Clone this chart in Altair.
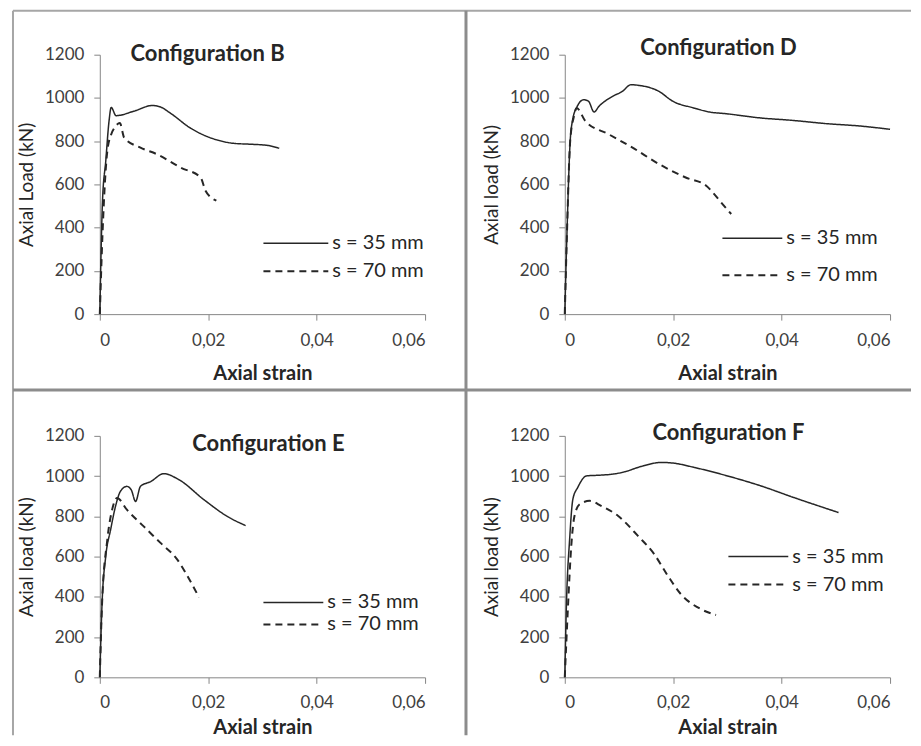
import altair as alt
import pandas as pd

FONT = "Lato"
SERIES = ["s = 35 mm", "s = 70 mm"]

# ---- Configuration B ----
b35_strain = [0, 0.0005, 0.0011, 0.0017, 0.0021, 0.0030, 0.0062, 0.0097, 0.0112, 0.0130, 0.0167, 0.0190, 0.0216, 0.0247, 0.0277, 0.0308, 0.0331]
b35_load = [0, 525, 708, 892, 956, 918, 938, 965, 958, 930, 861, 830, 806, 790, 786, 781, 767]
b70_strain = [0, 0.0005, 0.0014, 0.0021, 0.0028, 0.0037, 0.0045, 0.0075, 0.0106, 0.0149, 0.0186, 0.0195, 0.0215]
b70_load = [0, 371, 757, 831, 865, 884, 816, 770, 739, 678, 632, 571, 525]

# ---- Configuration D ----
d35_strain = [0, 0.0004, 0.0010, 0.0014, 0.0023, 0.0035, 0.0044, 0.0054, 0.0063, 0.0088, 0.0106, 0.0122, 0.0137, 0.0174, 0.0199, 0.0236, 0.0267, 0.0298, 0.0359, 0.0421, 0.0483, 0.0545, 0.0600]
d35_load = [0, 371, 801, 892, 961, 992, 984, 935, 961, 1007, 1030, 1061, 1058, 1030, 985, 955, 935, 927, 908, 896, 881, 870, 855]
d70_strain = [0, 0.0004, 0.0010, 0.0017, 0.0022, 0.0038, 0.0081, 0.0125, 0.0174, 0.0223, 0.0261, 0.0273, 0.0291, 0.0307]
d70_load = [0, 371, 801, 916, 953, 893, 832, 770, 694, 632, 594, 563, 509, 463]

# ---- Configuration E ----
e35_strain = [0, 0.0004, 0.0011, 0.0020, 0.0029, 0.0038, 0.0050, 0.0058, 0.0066, 0.0075, 0.0094, 0.0118, 0.0146, 0.0192, 0.0235, 0.0269]
e35_load = [0, 356, 602, 734, 850, 924, 949, 932, 874, 949, 973, 1012, 982, 883, 800, 754]
e70_strain = [0, 0.0004, 0.0014, 0.0023, 0.0032, 0.0050, 0.0081, 0.0112, 0.0143, 0.0158, 0.0183]
e70_load = [0, 356, 687, 836, 891, 833, 750, 668, 585, 521, 397]

# ---- Configuration F ----
f35_strain = [0, 0.0003, 0.0009, 0.0015, 0.0024, 0.0040, 0.0067, 0.0089, 0.0110, 0.0141, 0.0178, 0.0202, 0.0239, 0.0300, 0.0361, 0.0422, 0.0505]
f35_load = [0, 356, 687, 886, 944, 1001, 1005, 1010, 1021, 1048, 1068, 1064, 1043, 1001, 952, 894, 819]
f70_strain = [0, 0.0006, 0.0012, 0.0018, 0.0028, 0.0046, 0.0067, 0.0098, 0.0135, 0.0165, 0.0190, 0.0214, 0.0251, 0.0279]
f70_load = [0, 356, 654, 803, 861, 877, 852, 803, 703, 612, 505, 414, 339, 310]

x_ticks = [0, 0.02, 0.04, 0.06]
y_ticks = [0, 200, 400, 600, 800, 1000, 1200]

rows = []
for panel, s35, l35, s70, l70 in [
    ("B", b35_strain, b35_load, b70_strain, b70_load),
    ("D", d35_strain, d35_load, d70_strain, d70_load),
    ("E", e35_strain, e35_load, e70_strain, e70_load),
    ("F", f35_strain, f35_load, f70_strain, f70_load),
]:
    for s, l in zip(s35, l35):
        rows.append({"panel": panel, "series": SERIES[0], "strain": s, "load": l})
    for s, l in zip(s70, l70):
        rows.append({"panel": panel, "series": SERIES[1], "strain": s, "load": l})
df = pd.DataFrame(rows)

W = 326
H_TOP = 260
H_BOT = 242
one = alt.Data(values=[{}])


def panel_chart(key, title, ytitle, height, tx, ty, lx, ly, rowpad, half, loff, xlp, xtp, extra=None):
    data = df[df.panel == key]
    lines = alt.Chart(data).mark_line(interpolate="monotone", color="#262626").encode(
        x=alt.X("strain:Q", scale=alt.Scale(domain=[0, 0.06], nice=False),
                axis=alt.Axis(values=x_ticks, title="Axial strain", titleFontWeight="bold", titleFontSize=20,
                              labelExpr="datum.value == 0 ? '0' : replace(format(datum.value, '.2f'), '.', ',')",
                              labelPadding=xlp, titlePadding=xtp)),
        y=alt.Y("load:Q", scale=alt.Scale(domain=[0, 1200], nice=False),
                axis=alt.Axis(values=y_ticks, format="d", title=ytitle, titleFontWeight="normal",
                              labelPadding=10, titlePadding=8)),
        strokeDash=alt.StrokeDash("series:N",
                                  scale=alt.Scale(domain=SERIES, range=[[1, 0], [7, 5]]),
                                  legend=alt.Legend(orient="none", legendX=lx, legendY=ly, title=None,
                                                    symbolType=f"M-{half},0H{half}", symbolSize=100,
                                                    symbolStrokeWidth=1.6, symbolStrokeColor="#262626",
                                                    symbolFillColor="transparent",
                                                    labelOffset=loff, rowPadding=rowpad, padding=0,
                                                    labelFont=FONT, labelFontSize=20, labelColor="#262626")),
        strokeWidth=alt.StrokeWidth("series:N", scale=alt.Scale(domain=SERIES, range=[1.5, 2.0]), legend=None),
    )
    ttl = alt.Chart(one).mark_text(text=title, font=FONT, fontSize=22, fontWeight="bold",
                                   color="#262626", align="center", baseline="middle").encode(
        x=alt.value(tx), y=alt.value(ty))
    layers = [lines, ttl]
    if extra:
        layers = extra + layers
    return alt.layer(*layers).properties(width=W, height=height)


outer = "#a6a6a6"
inner = "#8c8c8c"
borders_top = [
    alt.Chart(one).mark_rule(color=outer, strokeWidth=2).encode(x=alt.value(-87), y=alt.value(-44), y2=alt.value(682)),
    alt.Chart(one).mark_rule(color=outer, strokeWidth=2).encode(x=alt.value(-87), x2=alt.value(813), y=alt.value(-44)),
    alt.Chart(one).mark_rule(color=inner, strokeWidth=3).encode(x=alt.value(367), y=alt.value(-44), y2=alt.value(682)),
    alt.Chart(one).mark_rule(color=inner, strokeWidth=3).encode(x=alt.value(-87), x2=alt.value(813), y=alt.value(336)),
]

cB = panel_chart("B", "Configuration  B", "Axial Load (kN)", H_TOP, 108, -1, 186.5, 179, 8, 6.5, 26.5, 12, 16, borders_top)
cD = panel_chart("D", "Configuration  D", "Axial load (kN)", H_TOP, 154, -7, 178, 174, 17, 6, 24, 12, 16)
cE = panel_chart("E", "Configuration  E", "Axial load (kN)", H_BOT, 169, 8, 184, 157, 2, 6, 24, 11, 7)
cF = panel_chart("F", "Configuration  F", "Axial load (kN)", H_BOT, 164, -3, 184, 111, 8, 6, 24, 11, 7)

chart = alt.concat(cB, cD, cE, cF, columns=2, spacing={"row": 122, "column": 140}, bounds="flush").resolve_scale(
    strokeDash="independent", strokeWidth="independent"
).properties(
    padding={"left": 3, "top": 0, "right": 0, "bottom": 0}, background="white"
).configure_view(stroke=None).configure_axis(
    grid=False, domainColor="#868686", tickColor="#868686", tickSize=6,
    labelFont=FONT, labelFontSize=17, labelColor="#404040",
    titleFont=FONT, titleFontSize=19, titleColor="#262626",
)

chart.save("out.html", embed_options={"renderer": "svg", "actions": False})
